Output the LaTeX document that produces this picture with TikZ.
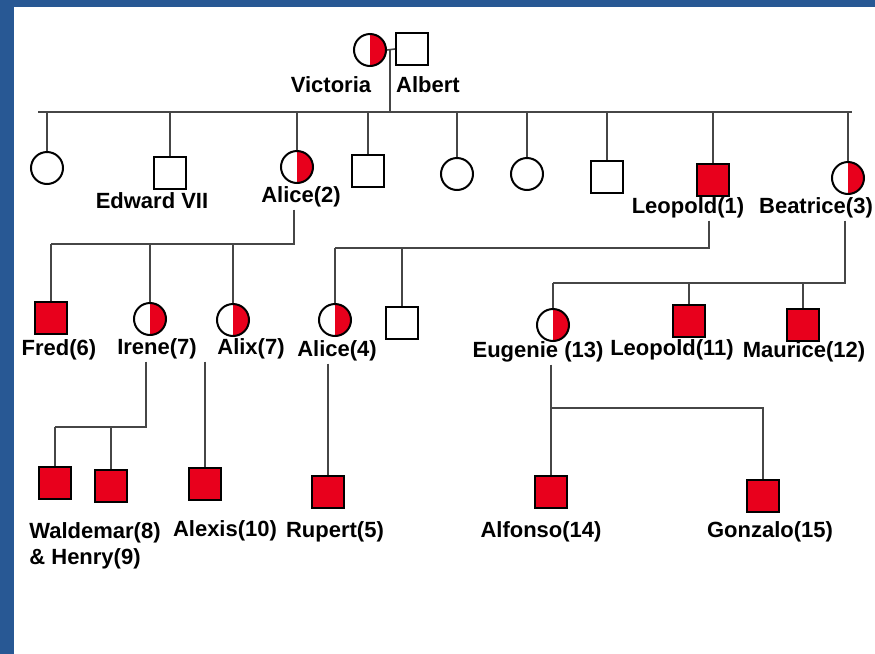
\documentclass[tikz,border=0pt]{standalone}
\usepackage{fontspec}
\setmainfont{Liberation Sans}
\definecolor{pedred}{RGB}{232,0,28}
\definecolor{framblue}{RGB}{40,88,148}
\definecolor{linegray}{RGB}{70,70,70}
\tikzset{
  person/.style={draw=black, line width=1pt, inner sep=0pt, minimum size=16pt},
  male/.style={person, rectangle},
  female/.style={person, circle},
  affected/.style={male, fill=pedred},
  carrier/.style={female, path picture={
      \fill[pedred] (path picture bounding box.north) rectangle (path picture bounding box.south east);}},
  lbl/.style={font=\bfseries\fontsize{11}{13}\selectfont, inner sep=1pt},
  line/.style={draw=linegray, line width=0.8pt},
}
\begin{document}
\begin{tikzpicture}[x=0.5pt, y=-0.5pt]
            \useasboundingbox (0,0) rectangle (875,654);
            % Frame
            \fill[white] (0,0) rectangle (875,654);
            \fill[framblue] (0,0) rectangle (875,7);
            \fill[framblue] (0,0) rectangle (14,654);

            % Victoria and Albert
            \node[carrier] (victoria) at (370,50) {};
            \node[male] (albert) at (412,49) {};
            \node[lbl] (victoriaL) at (331,85) {Victoria};
            \node[lbl] (albertL) at (428,85) {Albert};
            \coordinate (vaMar) at (390,50);
            \coordinate (vaSib) at (390,112);
            \draw[line] (victoria.east) -- (albert.west);
            \draw[line] (vaMar) -- (vaSib);
            \draw[line] (38,112) coordinate (sibL) -- (852,112) coordinate (sibR);

            % Their children
            \node[female] (child1) at (47,168) {};
            \node[male] (edward) at (170,173) {};
            \node[carrier] (alice) at (297,167) {};
            \node[male] (child4) at (368,171) {};
            \node[female] (child5) at (457,174) {};
            \node[female] (child6) at (527,174) {};
            \node[male] (child7) at (607,177) {};
            \node[affected] (leopold) at (713,180) {};
            \node[carrier] (beatrice) at (848,178) {};
            \foreach \n in {child1,edward,alice,child4,child5,child6,child7,leopold,beatrice}
                \draw[line] (\n.north |- sibL) -- (\n.north);
            \node[lbl] (edwardL) at (152,201) {Edward VII};
            \node[lbl] (aliceL) at (301,197) {Alice(2)};
            \node[lbl] (leopoldL) at (688,208) {Leopold(1)};
            \node[lbl] (beatriceL) at (816,208) {Beatrice(3)};

            % Grandchildren
            \node[affected] (fred) at (51,318) {};
            \node[carrier] (irene) at (150,319) {};
            \node[carrier] (alix) at (233,320) {};
            \node[carrier] (aliceB) at (335,320) {};
            \node[male] (charles) at (402,323) {};
            \node[carrier] (eugenie) at (553,325) {};
            \node[affected] (leopoldB) at (689,321) {};
            \node[affected] (maurice) at (803,325) {};
            \node[lbl] (fredL) at (59,350) {Fred(6)};
            \node[lbl] (ireneL) at (157,349) {Irene(7)};
            \node[lbl] (alixL) at (251,349) {Alix(7)};
            \node[lbl] (aliceBL) at (337,351) {Alice(4)};
            \node[lbl] (eugenieL) at (538,352) {Eugenie (13)};
            \node[lbl] (leopoldBL) at (672,350) {Leopold(11)};
            \node[lbl] (mauriceL) at (804,352) {Maurice(12)};

            % Alice(2) line
            \coordinate (aliceSib) at (294,244);
            \draw[line] (aliceL.south -| aliceSib) -- (aliceSib) -- (fred.north |- aliceSib);
            \foreach \n in {fred,irene,alix}
                \draw[line] (\n.north |- aliceSib) -- (\n.north);

            % Leopold(1) line
            \coordinate (leoSib) at (709,248);
            \draw[line] (leopoldL.south -| leoSib) -- (leoSib) -- (aliceB.north |- leoSib);
            \foreach \n in {aliceB,charles}
                \draw[line] (\n.north |- leoSib) -- (\n.north);

            % Beatrice(3) line
            \coordinate (beaSib) at (845,283);
            \draw[line] (beatriceL.south -| beaSib) -- (beaSib) -- (eugenie.north |- beaSib);
            \foreach \n in {eugenie,leopoldB,maurice}
                \draw[line] (\n.north |- beaSib) -- (\n.north);

            % Great-grandchildren
            \node[affected] (waldemar) at (55,483) {};
            \node[affected] (henry) at (111,486) {};
            \node[affected] (alexis) at (205,484) {};
            \node[affected] (rupert) at (328,492) {};
            \node[affected] (alfonso) at (551,492) {};
            \node[affected] (gonzalo) at (763,496) {};
            \node[lbl, anchor=north west, align=left] (waldemarL) at (27,520)
                {Waldemar(8)\\\& Henry(9)};
            \node[lbl] (alexisL) at (225,531) {Alexis(10)};
            \node[lbl] (rupertL) at (335,532) {Rupert(5)};
            \node[lbl] (alfonsoL) at (541,532) {Alfonso(14)};
            \node[lbl] (gonzaloL) at (770,532) {Gonzalo(15)};

            % Irene(7) line
            \coordinate (ireneSib) at (146,427);
            \draw[line] (ireneL.south -| ireneSib) -- (ireneSib) -- (waldemar.north |- ireneSib);
            \foreach \n in {waldemar,henry}
                \draw[line] (\n.north |- ireneSib) -- (\n.north);

            % Alix(7) and Alice(4) lines
            \draw[line] (alexis.north |- alixL.south) -- (alexis.north);
            \draw[line] (rupert.north |- aliceBL.south) -- (rupert.north);

            % Eugenie (13) line
            \coordinate (eugSib) at (551,408);
            \draw[line] (alfonso.north |- eugenieL.south) -- (alfonso.north);
            \draw[line] (eugSib) -- (gonzalo.north |- eugSib) -- (gonzalo.north);
\end{tikzpicture}
\end{document}
